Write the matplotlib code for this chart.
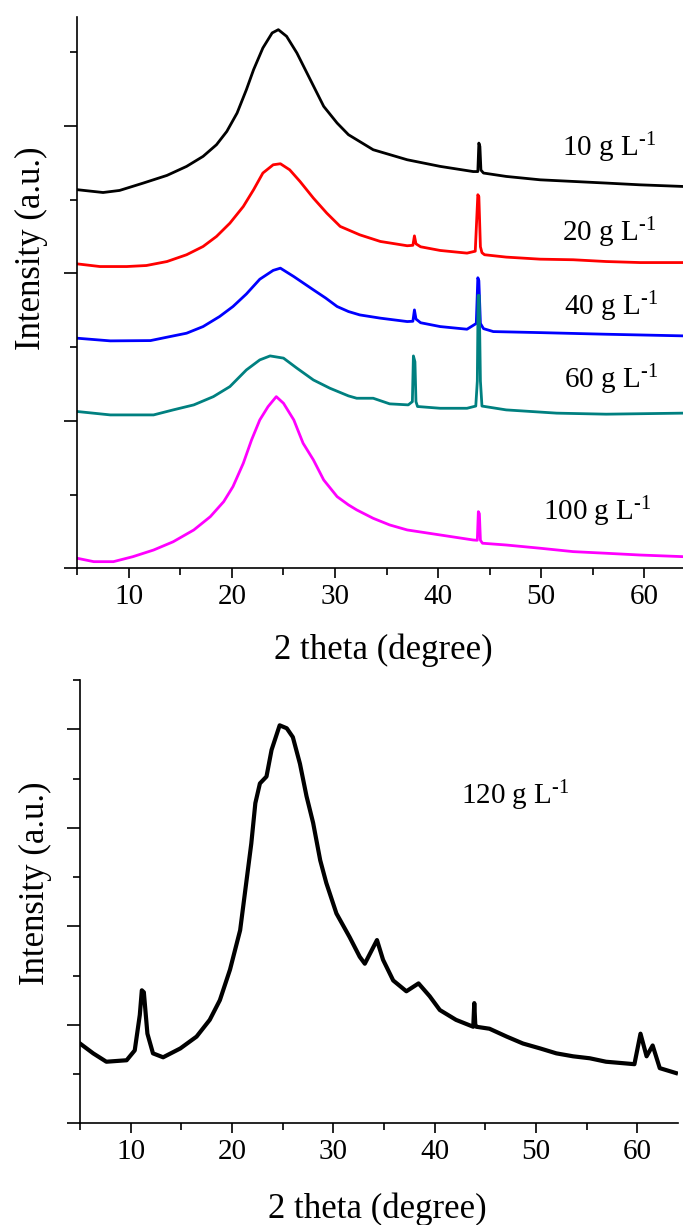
import matplotlib
matplotlib.use("Agg")
import matplotlib.pyplot as plt
from matplotlib.ticker import MultipleLocator, NullFormatter

plt.rcParams['font.family'] = ['Liberation Serif', 'DejaVu Serif']
plt.rcParams['mathtext.fontset'] = 'custom'
plt.rcParams['mathtext.rm'] = 'Liberation Serif'
plt.rcParams['mathtext.it'] = 'Liberation Serif:italic'

# ---------------- data ----------------
theta_10 = [5.0, 7.5, 9.1, 11.4, 13.7, 15.6, 17.2, 18.5, 19.5, 20.5, 21.4, 22.1, 23.0, 23.9, 24.5,
            25.3, 26.3, 27.6, 28.9, 30.2, 31.3, 32.1, 33.7, 37.0, 40.2, 43.4, 43.85, 43.95, 44.05,
            44.15, 44.4, 46.6, 49.9, 53.1, 56.3, 59.6, 63.75]
int_10 = [2.567, 2.548, 2.562, 2.612, 2.664, 2.725, 2.793, 2.872, 2.962, 3.087, 3.245, 3.381, 3.528,
          3.63, 3.652, 3.607, 3.494, 3.313, 3.132, 3.019, 2.94, 2.906, 2.838, 2.77, 2.725, 2.69,
          2.69, 2.883, 2.86, 2.70, 2.68, 2.657, 2.634, 2.623, 2.612, 2.60, 2.589]

theta_20 = [5.0, 7.2, 9.8, 11.7, 13.7, 15.6, 17.2, 18.5, 19.8, 21.1, 22.1, 23.0, 24.0, 24.7, 25.6,
            26.6, 27.9, 29.2, 30.5, 32.4, 34.4, 37.0, 37.55, 37.7, 37.85, 38.3, 40.2, 42.8, 43.6,
            43.85, 43.95, 44.1, 44.25, 44.5, 46.6, 49.9, 53.1, 56.3, 59.6, 63.75]
int_20 = [2.064, 2.046, 2.046, 2.053, 2.08, 2.126, 2.182, 2.25, 2.34, 2.453, 2.567, 2.68, 2.736,
          2.743, 2.702, 2.623, 2.51, 2.408, 2.318, 2.261, 2.216, 2.187, 2.19, 2.254, 2.20, 2.18,
          2.155, 2.137, 2.15, 2.533, 2.52, 2.18, 2.14, 2.126, 2.11, 2.096, 2.092, 2.08, 2.073, 2.073]

theta_40 = [5.0, 8.2, 12.1, 13.7, 15.6, 17.2, 18.8, 20.1, 21.4, 22.7, 24.0, 24.7, 26.0, 27.9, 29.1,
            30.2, 31.3, 32.4, 34.4, 37.0, 37.55, 37.7, 37.85, 38.3, 40.2, 42.8, 43.7, 43.85, 43.95,
            44.1, 44.4, 45.35, 49.9, 56.3, 63.75]
int_40 = [1.56, 1.542, 1.544, 1.567, 1.594, 1.639, 1.707, 1.775, 1.86, 1.96, 2.02, 2.035, 1.978,
          1.888, 1.832, 1.775, 1.741, 1.718, 1.696, 1.673, 1.675, 1.752, 1.69, 1.665, 1.639, 1.621,
          1.66, 1.97, 1.95, 1.66, 1.625, 1.605, 1.598, 1.587, 1.576]

theta_60 = [5.0, 8.2, 12.4, 14.3, 16.3, 18.2, 19.8, 21.4, 22.7, 23.7, 25.0, 26.3, 27.9, 29.5, 31.3,
            32.1, 33.7, 35.3, 37.1, 37.5, 37.6, 37.75, 37.85, 38.0, 40.2, 42.8, 43.65, 43.8, 43.88,
            43.98, 44.1, 44.25, 46.6, 51.5, 56.3, 63.75]
int_60 = [1.063, 1.04, 1.04, 1.074, 1.108, 1.164, 1.232, 1.345, 1.413, 1.44, 1.425, 1.357, 1.277,
          1.221, 1.169, 1.153, 1.153, 1.115, 1.108, 1.13, 1.44, 1.40, 1.13, 1.097, 1.085, 1.085,
          1.10, 1.27, 1.85, 1.85, 1.27, 1.10, 1.074, 1.052, 1.045, 1.052]

theta_100 = [5.0, 6.6, 8.5, 10.4, 12.4, 14.3, 16.3, 17.9, 19.2, 20.1, 21.1, 21.9, 22.7, 23.5, 24.3,
             25.0, 26.0, 26.9, 27.9, 28.9, 30.2, 31.3, 32.1, 33.7, 35.3, 37.0, 40.2, 43.4, 43.8,
             43.9, 44.0, 44.1, 44.3, 46.6, 49.9, 53.1, 56.3, 59.6, 63.75]
int_100 = [0.068, 0.045, 0.045, 0.079, 0.124, 0.18, 0.26, 0.35, 0.452, 0.554, 0.712, 0.87, 1.006,
           1.096, 1.164, 1.119, 1.006, 0.848, 0.735, 0.599, 0.486, 0.43, 0.396, 0.339, 0.294, 0.26,
           0.226, 0.192, 0.19, 0.384, 0.37, 0.19, 0.17, 0.158, 0.136, 0.113, 0.102, 0.09, 0.079]

theta_120 = [5.0, 6.3, 7.6, 9.6, 10.4, 10.9, 11.1, 11.3, 11.65, 12.2, 13.2, 14.9, 16.5, 17.8, 18.8,
             19.8, 20.8, 21.4, 21.9, 22.3, 22.75, 23.4, 23.9, 24.7, 25.4, 26.0, 26.7, 27.35, 28.0,
             28.7, 29.3, 30.3, 31.6, 32.6, 33.1, 34.3, 34.9, 35.9, 37.2, 38.4, 39.5, 40.5, 42.1,
             43.8, 43.9, 44.0, 44.1, 45.4, 47.1, 48.7, 50.4, 52.0, 53.65, 55.3, 56.9, 58.6, 59.7,
             60.3, 60.9, 61.5, 62.2, 63.8]
int_120 = [0.81, 0.71, 0.625, 0.64, 0.74, 1.1, 1.35, 1.33, 0.91, 0.71, 0.67, 0.76, 0.88, 1.05, 1.25,
           1.56, 1.96, 2.44, 2.84, 3.25, 3.45, 3.52, 3.79, 4.04, 4.01, 3.92, 3.65, 3.32, 3.05, 2.67,
           2.44, 2.13, 1.89, 1.69, 1.62, 1.86, 1.66, 1.45, 1.34, 1.42, 1.29, 1.15, 1.05, 0.98, 1.22,
           1.0, 0.98, 0.96, 0.88, 0.81, 0.76, 0.71, 0.68, 0.66, 0.625, 0.61, 0.60, 0.91, 0.68, 0.79,
           0.56, 0.51]

SUP = "$^{\u2010\\mathregular{1}}$"
top_labels = ["10 g L" + SUP, "20 g L" + SUP, "40 g L" + SUP, "60 g L" + SUP, "100 g L" + SUP]
bottom_label = "120 g L" + SUP
x_label = "2 theta (degree)"
y_label = "Intensity (a.u.)"

# ---------------- styling / layout ----------------
top_series = [(theta_10, int_10, "black"), (theta_20, int_20, "#ff0000"),
              (theta_40, int_40, "#0000ff"), (theta_60, int_60, "#008080"),
              (theta_100, int_100, "#ff00ff")]
label_pos = [(52.0, 2.85), (52.0, 2.275), (52.2, 1.775), (52.2, 1.278), (50.2, 0.384)]

W, H = 683, 1225
fig = plt.figure(figsize=(W / 100, H / 100), dpi=100)

ax1 = fig.add_axes([77.3 / W, (H - 568.3) / H, (W - 77.3) / W, 551.6 / H])
ax2 = fig.add_axes([80 / W, (H - 1123.3) / H, (678 - 80) / W, 443.3 / H])

TICK_FS = 21
LAB_FS = 25


def style(ax):
    ax.spines['top'].set_visible(False)
    ax.spines['right'].set_visible(False)
    for s in ('left', 'bottom'):
        ax.spines[s].set_linewidth(1.2)
    ax.xaxis.set_major_locator(MultipleLocator(10))
    ax.xaxis.set_minor_locator(MultipleLocator(5))
    ax.yaxis.set_major_locator(MultipleLocator(1))
    ax.yaxis.set_minor_locator(MultipleLocator(0.5))
    ax.yaxis.set_major_formatter(NullFormatter())
    ax.tick_params(axis='x', which='major', direction='out', length=7, width=1.2,
                   labelsize=TICK_FS, pad=4)
    ax.tick_params(axis='x', which='minor', direction='out', length=5, width=1.2)
    ax.tick_params(axis='y', which='major', direction='out', length=9.5, width=1.2)
    ax.tick_params(axis='y', which='minor', direction='out', length=5, width=1.2)
    ax.set_xlabel(x_label, fontsize=LAB_FS)
    ax.set_ylabel(y_label, fontsize=LAB_FS)


for (th, it, c) in top_series:
    ax1.plot(th, it, color=c, lw=2.0)
ax1.set_xlim(5, 63.75)
ax1.set_ylim(0, 3.74)
style(ax1)
for txt, (px, py) in zip(top_labels, label_pos):
    ax1.text(px, py, txt, fontsize=TICK_FS, ha='left', va='center')
ax1.xaxis.set_label_coords(0.505, -0.118)
ax1.yaxis.set_label_coords(-0.048, 0.58)

ax2.plot(theta_120, int_120, color='black', lw=3.0)
ax2.set_xlim(5, 64)
ax2.set_ylim(0, 4.5)
style(ax2)
ax2.text(42.6, 3.32, bottom_label, fontsize=TICK_FS, ha='left', va='center')
ax2.xaxis.set_label_coords(0.498, -0.155)
ax2.yaxis.set_label_coords(-0.047, 0.542)

fig.savefig("out.png", dpi=100)
